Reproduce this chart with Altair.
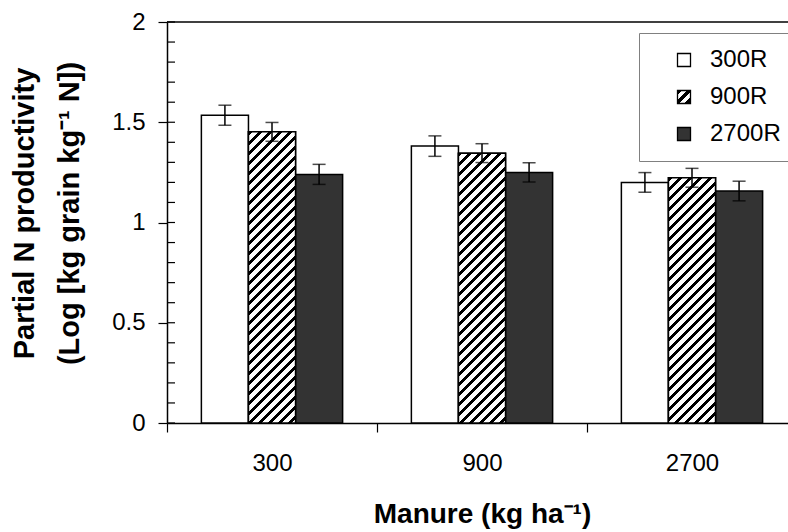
import json
import altair as alt

# ---- data ----
manure = ["300", "900", "2700"]
series = ["300R", "900R", "2700R"]
values = {
    "300R": [1.535, 1.381, 1.200],
    "900R": [1.452, 1.346, 1.223],
    "2700R": [1.240, 1.250, 1.157],
}
errors = {
    "300R": [0.050, 0.051, 0.049],
    "900R": [0.047, 0.047, 0.047],
    "2700R": [0.050, 0.048, 0.049],
}
y_ticks = [0, 0.5, 1, 1.5, 2]
minor_ticks = [0, 0.1, 0.2, 0.3, 0.4, 0.5, 0.6, 0.7, 0.8, 0.9, 1.0,
               1.1, 1.2, 1.3, 1.4, 1.5, 1.6, 1.7, 1.8, 1.9, 2.0]

# ---- layout constants (styling only) ----
PLOT_H = 401
BAND_RANGE = 630
Y_MAX = 2
PX_PER_UNIT = PLOT_H / Y_MAX
OFF_PAD = 0.73
BAR_W = (BAND_RANGE / 3) / (3 + 2 * OFF_PAD)


def stripe_stops(n_periods, frac=0.42):
    stops = []
    k = 0
    while k / n_periods < 1:
        a = k / n_periods
        b = min((k + frac) / n_periods, 1)
        c = min((k + 1) / n_periods, 1)
        stops += [
            {"offset": round(a, 4), "color": "black"},
            {"offset": round(b, 4), "color": "black"},
            {"offset": round(b, 4), "color": "white"},
            {"offset": round(c, 4), "color": "white"},
        ]
        k += 1
    return stops


def hatch_for_bar(h, w, period=10.0):
    total = w + h
    den = w * w + h * h
    return {
        "gradient": "linear",
        "x1": 0, "y1": 0,
        "x2": round(w * total / den, 5),
        "y2": round(h * total / den, 5),
        "stops": stripe_stops(total / period),
    }


legend_hatch = {"gradient": "linear", "x1": 0, "y1": 0, "x2": 1, "y2": 1,
                "stops": stripe_stops(2.6)}

rows = []
for s in series:
    for i, m in enumerate(manure):
        v = values[s][i]
        e = errors[s][i]
        row = {"manure": m, "series": s, "value": v, "lo": v - e, "hi": v + e}
        if s == "900R":
            row["hatch"] = hatch_for_bar(v * PX_PER_UNIT, BAR_W)
        rows.append(row)

data = alt.Data(values=rows)
hatched = alt.Data(values=[r for r in rows if r["series"] == "900R"])

x_enc = alt.X(
    "manure:N",
    sort=manure,
    scale=alt.Scale(domain=manure, range=[0, BAND_RANGE], paddingInner=0, paddingOuter=0),
    axis=alt.Axis(
        labelAngle=0, tickBand="extent", tickSize=9, tickColor="black", tickWidth=1.2,
        domainColor="black", domainWidth=1.5, labelPadding=19, labelFontSize=24,
        labelColor="black",
        title="Manure (kg ha\u207b\u00b9)", titleFontSize=28, titleFontWeight="bold",
        titleColor="black", titleX=315, titleY=99, titleBaseline="alphabetic",
        titleAlign="center",
    ),
)
xoff_enc = alt.XOffset("series:N", sort=series,
                       scale=alt.Scale(domain=series, paddingInner=0, paddingOuter=OFF_PAD))
y_scale = alt.Scale(domain=[0, Y_MAX], nice=False)

bars = alt.Chart(data).mark_bar(stroke="black", strokeWidth=1.5).encode(
    x=x_enc,
    xOffset=xoff_enc,
    y=alt.Y(
        "value:Q", scale=y_scale,
        axis=alt.Axis(
            values=y_ticks, labelExpr="datum.value + ''", grid=False,
            tickSize=9, tickColor="black", tickWidth=1.2, domainColor="black",
            domainWidth=1.5, labelPadding=13, labelFontSize=24, labelColor="black",
            title=["Partial N productivity", "(Log [kg grain kg\u207b\u00b9 N])"],
            titleFontSize=29, titleFontWeight="bold", titleColor="black",
            titleAngle=270, titleBaseline="middle", titleAlign="center",
            titleX=-143, titleY=191, titleLineHeight=45,
        ),
    ),
    fill=alt.Fill(
        "series:N", sort=series,
        scale=alt.Scale(domain=series,
                        range=["white", alt.ExprRef(json.dumps(legend_hatch)), "#333333"]),
        legend=alt.Legend(
            title=" ", titleOrient="left", titleFontSize=10, titlePadding=18,
            orient="none", legendX=472, legendY=11,
            padding=15, symbolType="square", symbolSize=169,
            symbolStrokeColor="black", symbolStrokeWidth=1.3, labelFontSize=24,
            labelColor="black", labelOffset=14, rowPadding=13,
            strokeColor="#808080", fillColor="white",
        ),
    ),
)

hatch_bars = alt.Chart(hatched).mark_bar(stroke="black", strokeWidth=1.5).encode(
    x=alt.X("manure:N", sort=manure),
    xOffset=alt.XOffset("series:N", sort=series),
    y=alt.Y("value:Q"),
    fill=alt.Fill("hatch:N", scale=None),
)

err_rules = alt.Chart(data).mark_rule(color="black", strokeWidth=1.5).encode(
    x=alt.X("manure:N", sort=manure),
    xOffset=alt.XOffset("series:N", sort=series),
    y="lo:Q",
    y2="hi:Q",
)
cap_lo = alt.Chart(data).mark_tick(color="black", thickness=1.5, size=13).encode(
    x=alt.X("manure:N", sort=manure),
    xOffset=alt.XOffset("series:N", sort=series),
    y="lo:Q",
)
cap_hi = alt.Chart(data).mark_tick(color="black", thickness=1.5, size=13).encode(
    x=alt.X("manure:N", sort=manure),
    xOffset=alt.XOffset("series:N", sort=series),
    y="hi:Q",
)

inner_ticks = alt.Chart(alt.Data(values=[{"t": t} for t in minor_ticks])).mark_rule(
    color="black", strokeWidth=1.2
).encode(y="t:Q", x=alt.value(0), x2=alt.value(8))

top_line = alt.Chart(alt.Data(values=[{"t": Y_MAX}])).mark_rule(
    color="black", strokeWidth=1.5
).encode(y="t:Q", x=alt.value(0), x2=alt.value(BAND_RANGE))

chart = alt.layer(bars, hatch_bars, err_rules, cap_lo, cap_hi, inner_ticks, top_line).properties(
    width=621, height=PLOT_H,
    autosize=alt.AutoSizeParams(type="none"),
    padding={"left": 167, "top": 22, "right": 0, "bottom": 107},
).configure(font="Liberation Sans").configure_view(stroke=None)

chart.save("out.html", embed_options={"renderer": "svg", "actions": False})
